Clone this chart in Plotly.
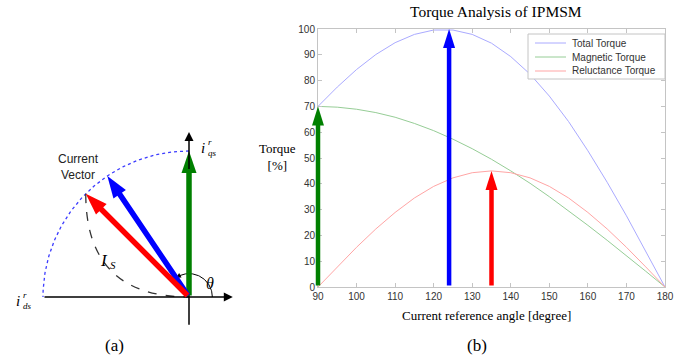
import numpy as np
import plotly.graph_objects as go

# ---------------- data ----------------
angle_deg = [90, 95, 100, 105, 110, 115, 120, 125, 130, 135, 140, 145, 150, 155, 160, 165, 170, 175, 180]
total_torque = [70, 77.5, 84.3, 90.1, 94.7, 97.9, 99.6, 99.6, 97.9, 94.5, 89.3, 82.5, 74.0, 64.1, 52.8, 40.6, 27.6, 13.9, 0]
magnetic_torque = [70, 69.7, 68.9, 67.6, 65.8, 63.4, 60.6, 57.3, 53.6, 49.5, 45.0, 40.2, 35.0, 29.6, 23.9, 18.1, 12.2, 6.1, 0]
reluctance_torque = [0, 7.8, 15.4, 22.5, 28.9, 34.5, 39.0, 42.3, 44.3, 45.0, 44.3, 42.3, 39.0, 34.5, 28.9, 22.5, 15.4, 7.8, 0]

series_names = ["Total Torque", "Magnetic Torque", "Reluctance Torque"]
series_colors = ["rgb(170,170,255)", "rgb(150,205,150)", "rgb(255,165,165)"]

# operating points (angle, torque) shown as arrows
op_angles = [90, 124, 135]
op_torques = [70, 100, 45]
op_colors = ["#008000", "#0000ff", "#ff0000"]
current_mag = 1.0

x_ticks = list(range(90, 181, 10))
y_ticks = list(range(0, 101, 10))

W, H = 700, 360
SERIF = "Liberation Serif"
SANS = "Liberation Sans"

fig = go.Figure()

# ---------------- right chart: torque curves ----------------
for name, vals, col in zip(series_names, [total_torque, magnetic_torque, reluctance_torque], series_colors):
    fig.add_trace(go.Scatter(x=angle_deg, y=vals, mode="lines", name=name, showlegend=False,
                             line=dict(color=col, width=1), xaxis="x", yaxis="y"))

annotations = []
shapes = []

xmin, xmax, ymin, ymax = 90, 180, 0, 100

# arrows on right chart
head_L, head_W = 19, 12
for a, t, c in zip(op_angles, op_torques, op_colors):
    annotations.append(dict(x=a, y=t, ax=a, ay=0, xref="x", yref="y", axref="x", ayref="y",
                            showarrow=True, arrowhead=0, arrowwidth=4.5, arrowcolor=c,
                            standoff=head_L - 3, text=""))
    shapes.append(dict(type="path", xref="x domain", yref="y domain",
                       xsizemode="pixel", ysizemode="pixel",
                       xanchor=(a - xmin) / (xmax - xmin), yanchor=(t - ymin) / (ymax - ymin),
                       path=f"M0,0 L{-head_W/2},{-head_L} L{head_W/2},{-head_L} Z",
                       fillcolor=c, line=dict(width=0), layer="above"))

# legend (compact, MATLAB style)
lg_x0, lg_x1, lg_y0, lg_y1 = 528, 665, 34, 79
shapes.append(dict(type="rect", xref="paper", yref="paper", x0=lg_x0 / W, x1=lg_x1 / W,
                   y0=1 - lg_y1 / H, y1=1 - lg_y0 / H, line=dict(color="#c4c4c4", width=1),
                   fillcolor="white", layer="above"))
for i, (name, col) in enumerate(zip(series_names, series_colors)):
    yy = 1 - (43 + 14 * i) / H
    shapes.append(dict(type="line", xref="paper", yref="paper", x0=535 / W, x1=566 / W,
                       y0=yy, y1=yy, line=dict(color=col, width=1), layer="above"))
    annotations.append(dict(text=name, x=570 / W, y=yy, xref="paper", yref="paper",
                            showarrow=False, xanchor="left", yanchor="middle",
                            font=dict(family=SANS, size=10, color="#333")))

# ---------------- left diagram: current vectors ----------------
ox, oy, rpx = 189, 297, 146  # origin pixel & radius pixel
lx0, lx1, ly0, ly1 = 10, 250, 120, 330
x2_range = [(lx0 - ox) / rpx, (lx1 - ox) / rpx]
y2_range = [(oy - ly1) / rpx, (oy - ly0) / rpx]

arc = np.radians(np.linspace(90, 180, 120))
fig.add_trace(go.Scatter(x=current_mag * np.cos(arc), y=current_mag * np.sin(arc), mode="lines",
                         line=dict(color="rgb(60,60,255)", width=1.3, dash="dot"),
                         showlegend=False, xaxis="x2", yaxis="y2", hoverinfo="skip"))

# theta arc
th_r = 0.16
th = np.radians(np.linspace(0, 122, 60))
fig.add_trace(go.Scatter(x=th_r * np.cos(th), y=th_r * np.sin(th), mode="lines",
                         line=dict(color="black", width=1), showlegend=False,
                         xaxis="x2", yaxis="y2", hoverinfo="skip"))
t_end, t_back = np.radians(124), np.radians(112)
annotations.append(dict(x=th_r * np.cos(t_end), y=th_r * np.sin(t_end),
                        ax=th_r * np.cos(t_back), ay=th_r * np.sin(t_back),
                        xref="x2", yref="y2", axref="x2", ayref="y2", showarrow=True,
                        arrowhead=2, arrowsize=1, arrowwidth=1, arrowcolor="black", text=""))

# dq axes
annotations.append(dict(x=0.30, y=0, ax=-1.0, ay=0, xref="x2", yref="y2", axref="x2", ayref="y2",
                        showarrow=True, arrowhead=2, arrowsize=1.2, arrowwidth=1.5,
                        arrowcolor="black", text=""))
annotations.append(dict(x=0, y=1.13, ax=0, ay=-0.2, xref="x2", yref="y2", axref="x2", ayref="y2",
                        showarrow=True, arrowhead=2, arrowsize=1.2, arrowwidth=1.5,
                        arrowcolor="black", text=""))

# dashed I_S curve from red vector tip to origin
ra = np.radians(op_angles[2])
px, py = current_mag * np.cos(ra), current_mag * np.sin(ra)
shapes.append(dict(type="path", xref="x2", yref="y2",
                   path=f"M{px},{py} Q{px},0 0,0",
                   line=dict(color="#333", width=1.3, dash="dash")))

# vectors
vL, vW = 22, 15
for a, c in zip(op_angles, op_colors):
    r = np.radians(a)
    tx, ty = current_mag * np.cos(r), current_mag * np.sin(r)
    annotations.append(dict(x=tx, y=ty, ax=0, ay=0, xref="x2", yref="y2", axref="x2", ayref="y2",
                            showarrow=True, arrowhead=0, arrowwidth=5.5, arrowcolor=c,
                            standoff=vL - 4, text=""))
    dx, dy = np.cos(r), np.sin(r)
    nx, ny = -dy, dx
    bx, by = -vL * dx, -vL * dy
    p1 = (bx + nx * vW / 2, by + ny * vW / 2)
    p2 = (bx - nx * vW / 2, by - ny * vW / 2)
    shapes.append(dict(type="path", xref="x2", yref="y2", xsizemode="pixel", ysizemode="pixel",
                       xanchor=tx, yanchor=ty,
                       path=f"M0,0 L{p1[0]:.2f},{p1[1]:.2f} L{p2[0]:.2f},{p2[1]:.2f} Z",
                       fillcolor=c, line=dict(width=0), layer="above"))


def ptxt(text, x, y, size, family=SERIF, color="black", xanchor="center", **kw):
    annotations.append(dict(text=text, x=x / W, y=1 - y / H, xref="paper", yref="paper",
                            showarrow=False, font=dict(family=family, size=size, color=color),
                            xanchor=xanchor, yanchor="middle", **kw))


# left labels
ptxt("Current<br>Vector", 78, 167, 12, family=SANS, color="#222")
# i^r_qs
ptxt("<i>i</i>", 203, 148, 15)
ptxt("<i>r</i>", 206, 142, 9, xanchor="left")
ptxt("<i>qs</i>", 206, 153, 9, xanchor="left")
# i^r_ds
ptxt("<i>i</i>", 18, 301, 15)
ptxt("<i>r</i>", 21, 295, 9, xanchor="left")
ptxt("<i>ds</i>", 21, 306, 9, xanchor="left")
# I_S
ptxt("<i>I</i>", 104, 260, 17)
ptxt("<i>S</i>", 108, 265, 11, xanchor="left")
ptxt("<i>θ</i>", 210, 283, 16)
ptxt("(a)", 114, 345, 17)

# right labels
ptxt("Torque Analysis of IPMSM", 496, 12, 15.5)
ptxt("Current reference angle [degree]", 486, 315, 13)
ptxt("Torque<br>[%]", 277, 157, 13)
ptxt("(b)", 477, 345, 17)

axis_common = dict(showgrid=False, zeroline=False, showline=True, mirror="ticks", automargin=False,
                   linecolor="#c4c4c4", linewidth=1, ticks="inside", ticklen=4,
                   tickcolor="#c4c4c4", tickfont=dict(family=SANS, size=10, color="#333"))

fig.update_layout(
    width=W, height=H, margin=dict(l=0, r=0, t=0, b=0),
    paper_bgcolor="white", plot_bgcolor="white",
    xaxis=dict(domain=[318 / W, 665 / W], range=[xmin, xmax], tickvals=x_ticks, anchor="y", **axis_common),
    yaxis=dict(domain=[1 - 287 / H, 1 - 29 / H], range=[ymin, ymax], tickvals=y_ticks, anchor="x", **axis_common),
    xaxis2=dict(domain=[lx0 / W, lx1 / W], range=x2_range, visible=False, anchor="y2", automargin=False),
    yaxis2=dict(domain=[1 - ly1 / H, 1 - ly0 / H], range=y2_range, visible=False, anchor="x2", automargin=False),
    annotations=annotations, shapes=shapes, showlegend=False,
)

fig.write_html("out.html")
